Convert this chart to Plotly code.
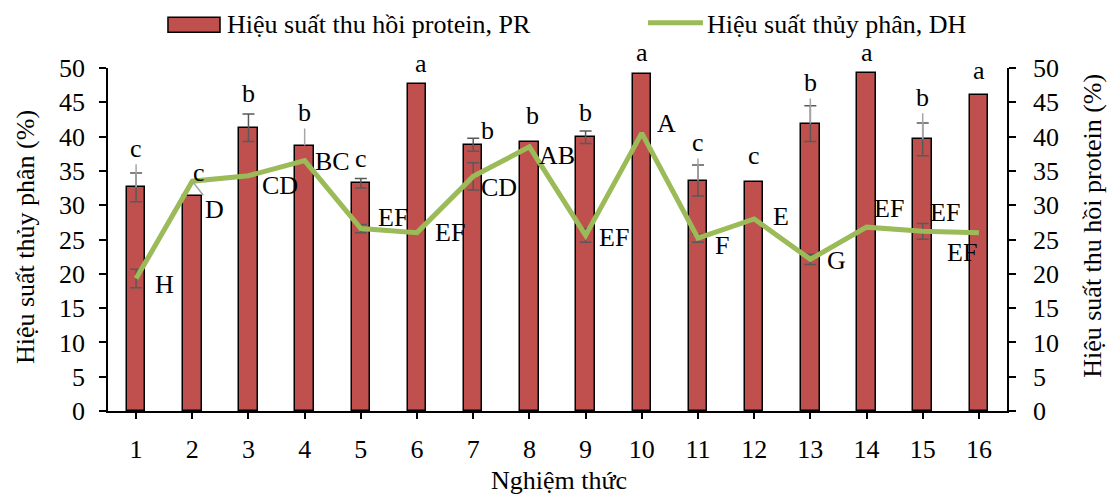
import plotly.graph_objects as go

# ---------------- data ----------------
categories = list(range(1, 17))
tick_labels = [str(i) for i in categories]

pr_values = [32.6, 31.3, 41.3, 38.7, 33.2, 47.7, 38.8, 39.2, 39.9, 49.1, 33.6, 33.4, 41.9, 49.2, 39.6, 46.1]
pr_errors = [2.1, 0, 2.0, 0, 0.7, 0, 0.95, 0, 0.9, 0, 2.25, 0, 2.6, 0, 2.4, 0]
pr_letters = ['c', 'c', 'b', 'b', 'c', 'a', 'b', 'b', 'b', 'a', 'c', 'c', 'b', 'a', 'b', 'a']

dh_values = [19.3, 33.5, 34.3, 36.5, 26.6, 26.0, 34.2, 38.5, 25.6, 40.5, 25.2, 28.0, 22.1, 26.8, 26.2, 26.0]
dh_errors = [1.35, 0, 0, 0, 0.6, 0, 2.0, 0, 1.0, 0, 0.6, 0, 0.75, 0, 1.15, 0]
dh_letters = ['H', 'D', 'CD', 'BC', 'EF', 'EF', 'CD', 'AB', 'EF', 'A', 'F', 'E', 'G', 'EF', 'EF', 'EF']

pr_name = 'Hiệu suất thu hồi protein, PR'
dh_name = 'Hiệu suất thủy phân, DH'
y_left_title = 'Hiệu suất thủy phân (%)'
y_right_title = 'Hiệu suất thu hồi protein (%)'
x_title = 'Nghiệm thức'

# ---------------- label placement (pixel offsets, style only) ----------------
pr_dx = [0, 7, 0, 0, 0, 4, 14, 3, 0, 0, 0, 0, 0, 0, 0, 0]
pr_dy = [39, 24, 34, 33, 25, 20, 14, 27, 25, 22, 38, 26, 41, 21, 42, 24]
pr_leader = [True, False, False, True, False, False, False, False,
             False, False, True, False, True, False, True, False]

dh_dx = [28, 22, 32, 28, 32, 33, 26, 28, 28, 25, 24, 27, 26, 22, 22, -17]
dh_dy = [-6, -28, -10, -1, 11, 0, -11, -9, -2, 10, -7, 2, -1, 19, 19, -20]
dh_leader = [False, True] + [False] * 14

FONT = 'Liberation Serif, Times New Roman, serif'
FS = 26
BAR_COLOR = '#C0504D'
LINE_COLOR = '#9BBB59'
ERR_COLOR = '#595959'
LEADER_COLOR = '#A6A6A6'

fig = go.Figure()

fig.add_trace(go.Bar(
    x=categories, y=pr_values, name=pr_name, width=0.33,
    marker=dict(color=BAR_COLOR, line=dict(color='black', width=1.5)),
    showlegend=False, yaxis='y'))

# PR error bars (only where an error exists)
pr_ex = [c for c, e in zip(categories, pr_errors) if e > 0]
pr_ey = [v for v, e in zip(pr_values, pr_errors) if e > 0]
pr_ee = [e for e in pr_errors if e > 0]
fig.add_trace(go.Scatter(
    x=pr_ex, y=pr_ey, mode='markers', marker=dict(size=1, opacity=0),
    error_y=dict(type='data', array=pr_ee, color=ERR_COLOR, thickness=1.5, width=6),
    showlegend=False, hoverinfo='skip', yaxis='y'))

# DH error bars
dh_ex = [c for c, e in zip(categories, dh_errors) if e > 0]
dh_ey = [v for v, e in zip(dh_values, dh_errors) if e > 0]
dh_ee = [e for e in dh_errors if e > 0]
fig.add_trace(go.Scatter(
    x=dh_ex, y=dh_ey, mode='markers', marker=dict(size=1, opacity=0),
    error_y=dict(type='data', array=dh_ee, color=ERR_COLOR, thickness=1.5, width=6),
    showlegend=False, hoverinfo='skip', yaxis='y2'))

fig.add_trace(go.Scatter(
    x=categories, y=dh_values, name=dh_name, mode='lines',
    line=dict(color=LINE_COLOR, width=5), showlegend=False, yaxis='y2'))

txt_font = dict(family=FONT, size=FS, color='black')
annotations = []
for c, v, t, dx, dy, ld in zip(categories, pr_values, pr_letters, pr_dx, pr_dy, pr_leader):
    if ld:
        annotations.append(dict(x=c, y=v, xref='x', yref='y', text=t, showarrow=True,
                                ax=dx, ay=-dy, arrowhead=0, arrowwidth=1.5,
                                arrowcolor=LEADER_COLOR, standoff=0, font=txt_font))
    else:
        annotations.append(dict(x=c, y=v, xref='x', yref='y', text=t, showarrow=False,
                                xshift=dx, yshift=dy, font=txt_font))
for c, v, t, dx, dy, ld in zip(categories, dh_values, dh_letters, dh_dx, dh_dy, dh_leader):
    if ld:
        annotations.append(dict(x=c, y=v, xref='x', yref='y2', text=t, showarrow=True,
                                ax=dx, ay=-dy, arrowhead=0, arrowwidth=1.5,
                                arrowcolor=LEADER_COLOR, standoff=0, font=txt_font))
    else:
        annotations.append(dict(x=c, y=v, xref='x', yref='y2', text=t, showarrow=False,
                                xshift=dx, yshift=dy, font=txt_font))

# axis titles
annotations.append(dict(x=-0.0923, y=0.507, xref='paper', yref='paper', text=y_left_title,
                        textangle=-90, showarrow=False, xanchor='center', yanchor='middle',
                        font=txt_font))
annotations.append(dict(x=1.0957, y=0.54, xref='paper', yref='paper', text=y_right_title,
                        textangle=-90, showarrow=False, xanchor='center', yanchor='middle',
                        font=txt_font))
annotations.append(dict(x=0.502, y=-0.204, xref='paper', yref='paper', text=x_title,
                        showarrow=False, xanchor='center', yanchor='middle', font=txt_font))

# legend drawn as shapes + text
annotations.append(dict(x=0.130, y=1.128, xref='paper', yref='paper', text=pr_name,
                        showarrow=False, xanchor='left', yanchor='middle', font=txt_font))
annotations.append(dict(x=0.664, y=1.128, xref='paper', yref='paper', text=dh_name,
                        showarrow=False, xanchor='left', yanchor='middle', font=txt_font))
shapes = [
    dict(type='rect', xref='paper', yref='paper', x0=0.0667, x1=0.1246, y0=1.104, y1=1.1477,
         fillcolor=BAR_COLOR, line=dict(color='black', width=1.5)),
    dict(type='line', xref='paper', yref='paper', x0=0.6007, x1=0.6618, y0=1.132, y1=1.132,
         line=dict(color=LINE_COLOR, width=5)),
]

axis_font = dict(family=FONT, size=FS, color='black')
fig.update_layout(
    width=1116, height=494,
    margin=dict(l=108, r=109, t=68, b=83),
    paper_bgcolor='white', plot_bgcolor='white',
    font=dict(family=FONT, size=FS, color='black'),
    showlegend=False,
    bargap=0,
    xaxis=dict(range=[0.5, 16.5], tickmode='array', tickvals=categories, ticktext=tick_labels,
               ticks='outside', ticklen=6, tickwidth=1.5, tickcolor='black',
               showline=True, linecolor='black', linewidth=1.5, showgrid=False,
               zeroline=False, tickfont=axis_font, ticklabelstandoff=8),
    yaxis=dict(range=[0, 50], dtick=5, tick0=0, ticks='outside', ticklen=7, tickwidth=1.5,
               tickcolor='black', showline=True, linecolor='black', linewidth=1.5,
               showgrid=False, zeroline=False, tickfont=axis_font, ticklabelstandoff=9),
    yaxis2=dict(range=[0, 50], dtick=5, tick0=0, overlaying='y', side='right',
                ticks='outside', ticklen=7, tickwidth=1.5, tickcolor='black',
                showline=True, linecolor='black', linewidth=1.5,
                showgrid=False, zeroline=False, tickfont=axis_font, ticklabelstandoff=12),
    annotations=annotations,
    shapes=shapes,
)

fig.write_html('out.html')
